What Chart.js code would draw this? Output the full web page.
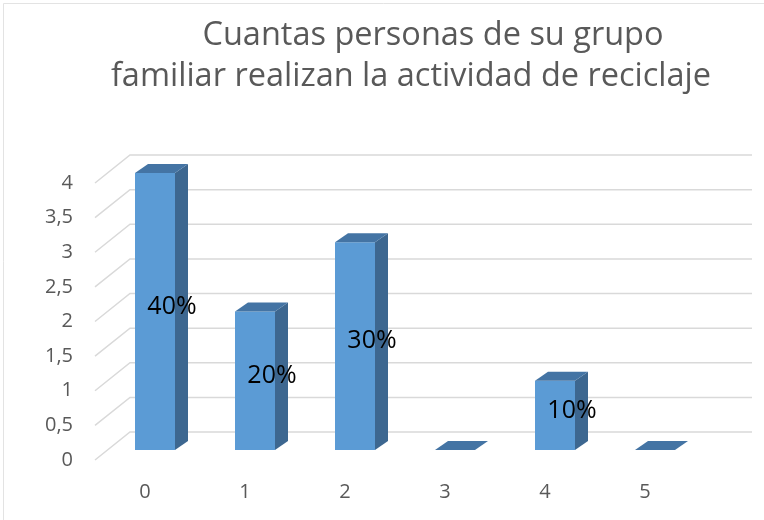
<!DOCTYPE html>
<html>
<head>
<meta charset="utf-8">
<script src="https://cdn.jsdelivr.net/npm/chart.js"></script>
<style>
    html, body { margin: 0; padding: 0; background: #ffffff; }
</style>
</head>
<body>
<canvas id="chart" width="764" height="520"></canvas>
<script>
// Datos del grafico
var titleLines = ["Cuantas personas de su grupo", "familiar realizan la actividad de reciclaje"];
var categories = ["0", "1", "2", "3", "4", "5"];
var personas = [4, 2, 3, 0, 1, 0];
var porcentajes = ["40%", "20%", "30%", "", "10%", ""];
var yTickLabels = ["0", "0,5", "1", "1,5", "2", "2,5", "3", "3,5", "4"];

var FONT = "'Open Sans', 'Noto Sans', sans-serif";
var DEPTH_X = 13, DEPTH_Y = 9; // profundidad de las barras 3D

// Marco gris claro arriba y a la izquierda
const frame = {
    id: "frame",
    beforeDraw(chart) {
        const ctx = chart.ctx;
        ctx.save();
        ctx.strokeStyle = "#e3e3e3";
        ctx.lineWidth = 1;
        ctx.beginPath();
        ctx.moveTo(3.5, chart.height);
        ctx.lineTo(3.5, 3.5);
        ctx.lineTo(chart.width, 3.5);
        ctx.stroke();
        ctx.restore();
    }
};

// Lineas de division en perspectiva (pared del fondo + suelo)
const grid3d = {
    id: "grid3d",
    beforeDatasetsDraw(chart) {
        const { ctx, chartArea, scales } = chart;
        const y = scales.y;
        ctx.save();
        ctx.strokeStyle = "#d9d9d9";
        ctx.lineWidth = 1.5;
        y.ticks.forEach(function (t) {
            const py = y.getPixelForValue(t.value);
            ctx.beginPath();
            ctx.moveTo(chartArea.left - 10, py + 10);
            ctx.lineTo(chartArea.left + 25, py - 18);
            ctx.lineTo(chartArea.right + 47, py - 18);
            ctx.stroke();
        });
        ctx.restore();
    }
};

// Caras lateral y superior de cada barra + etiquetas de porcentaje
const bars3d = {
    id: "bars3d",
    afterDatasetsDraw(chart) {
        const ctx = chart.ctx;
        const meta = chart.getDatasetMeta(0);
        ctx.save();
        meta.data.forEach(function (bar) {
            const p = bar.getProps(["x", "y", "base", "width"], true);
            const l = p.x - p.width / 2;
            const r = p.x + p.width / 2;
            const top = Math.min(p.y, p.base);
            const bottom = Math.max(p.y, p.base);

            if (bottom - top > 0.5) {
                ctx.fillStyle = "#3d6790";
                ctx.beginPath();
                ctx.moveTo(r, top);
                ctx.lineTo(r + DEPTH_X, top - DEPTH_Y);
                ctx.lineTo(r + DEPTH_X, bottom - DEPTH_Y);
                ctx.lineTo(r, bottom);
                ctx.closePath();
                ctx.fill();
            }

            ctx.fillStyle = "#4474a4";
            ctx.beginPath();
            ctx.moveTo(l, top);
            ctx.lineTo(l + DEPTH_X, top - DEPTH_Y);
            ctx.lineTo(r + DEPTH_X, top - DEPTH_Y);
            ctx.lineTo(r, top);
            ctx.closePath();
            ctx.fill();
        });

        ctx.fillStyle = "#000000";
        ctx.font = "25px " + FONT;
        ctx.textAlign = "center";
        ctx.textBaseline = "middle";
        meta.data.forEach(function (bar, i) {
            if (!porcentajes[i]) return;
            const p = bar.getProps(["x", "y", "base"], true);
            ctx.fillText(porcentajes[i], p.x + 17, (p.y + p.base) / 2 - 5);
        });
        ctx.restore();
    }
};

// Titulo en dos lineas
const titulo = {
    id: "titulo",
    afterDraw(chart) {
        const ctx = chart.ctx;
        ctx.save();
        ctx.fillStyle = "#595959";
        ctx.font = "32.5px " + FONT;
        ctx.textAlign = "center";
        ctx.textBaseline = "middle";
        ctx.fillText(titleLines[0], 433, 36);
        ctx.fillText(titleLines[1], 411, 77);
        ctx.restore();
    }
};

const ctx = document.getElementById("chart").getContext("2d");

new Chart(ctx, {
    type: "bar",
    data: {
        labels: categories,
        datasets: [
            {
                label: "Personas",
                data: personas,
                backgroundColor: "#5b9bd5",
                borderWidth: 0,
                barPercentage: 0.4,
                categoryPercentage: 1.0,
            },
        ],
    },
    options: {
        responsive: false,
        animation: false,
        layout: {
            padding: { top: 173, right: 59, bottom: 0, left: 0 },
        },
        plugins: {
            legend: { display: false },
            title: { display: false },
            tooltip: { enabled: false },
        },
        scales: {
            x: {
                grid: { display: false, drawTicks: false },
                border: { display: false },
                ticks: {
                    color: "#595959",
                    font: { family: FONT, size: 20 },
                    padding: 30,
                    labelOffset: -10,
                },
                afterFit: function (scale) {
                    scale.height = 70;
                },
            },
            y: {
                min: 0,
                max: 4,
                grid: { display: false, drawTicks: false },
                border: { display: false },
                ticks: {
                    stepSize: 0.5,
                    color: "#595959",
                    font: { family: FONT, size: 20 },
                    padding: 32,
                    labelOffset: 10,
                    callback: function (value, index) {
                        return yTickLabels[index];
                    },
                },
                afterFit: function (scale) {
                    scale.width = 105;
                },
            },
        },
    },
    plugins: [frame, grid3d, bars3d, titulo],
});
</script>
</body>
</html>
